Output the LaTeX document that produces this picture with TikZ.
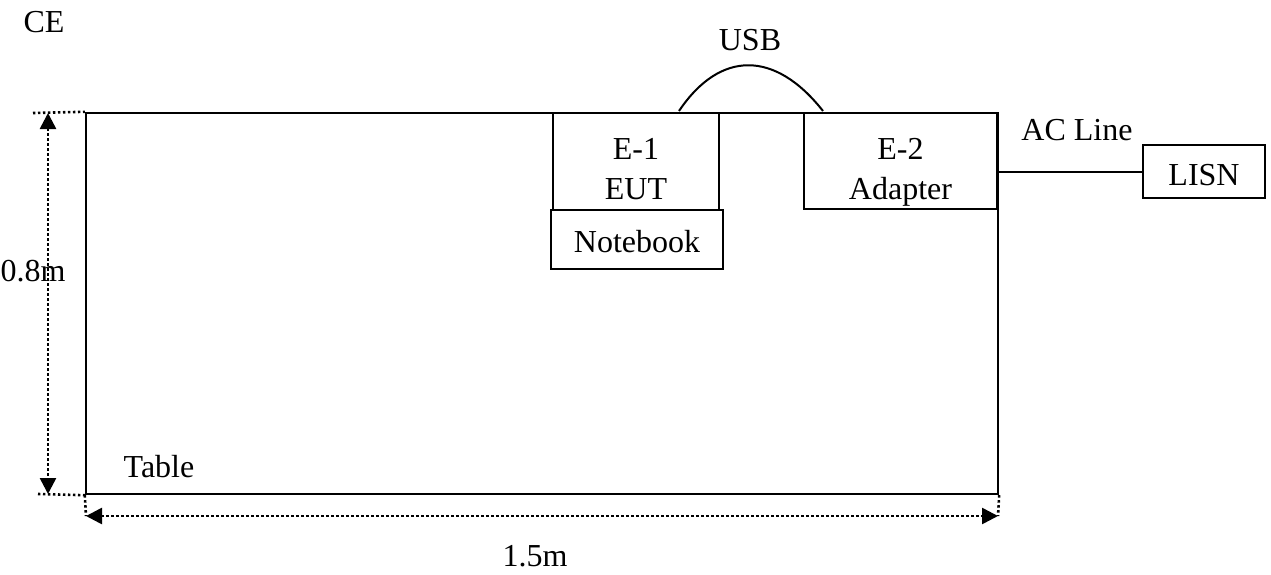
\documentclass[tikz,border=0pt]{standalone}
\usepackage{fontspec}
\setmainfont{Liberation Serif}
\usepackage{tikz}
\usetikzlibrary{arrows.meta}

\begin{document}
\begin{tikzpicture}[x=0.5pt,y=-0.5pt,font=\fontsize{16}{20}\selectfont,
	box/.style={draw,line width=1pt,inner sep=0pt},
	dim/.style={line width=1.3pt,dash pattern=on 1.2pt off 1.3pt},
	dimarrow/.style={dim,{Triangle[width=8pt,length=8pt]}-{Triangle[width=8pt,length=8pt]}}]
	\useasboundingbox (0,0) rectangle (1271,574);
	\node (table) at (542,303.5)[draw,line width=1.2pt,minimum width=456pt,minimum height=190.5pt]{};
	\node (ce) at (44,32)[anchor=base]{CE};
	\node (h) at (33,281)[anchor=base]{0.8m};
	\node (w) at (535,566)[anchor=base]{1.5m};
	\node (tab) at (159,477)[anchor=base]{Table};
	\node (usb) at (750,50)[anchor=base]{USB};
	\node (acl) at (1077,140)[anchor=base]{AC Line};
	\node (eut) at (636,161.5)[box,minimum width=83pt,minimum height=48.5pt]{};
	\node (nb) at (637,239.5)[box,minimum width=86pt,minimum height=29.5pt]{};
	\node (ada) at (900.5,161)[box,minimum width=96.5pt,minimum height=48pt]{};
	\node (lisn) at (1204,171.5)[box,minimum width=61pt,minimum height=26.5pt]{};
	\node (eutA) at (636,159)[anchor=base]{E-1};
	\node (eutB) at (636,199)[anchor=base]{EUT};
	\node (nbA) at (637,252)[anchor=base]{Notebook};
	\node (adaA) at (900.5,159)[anchor=base]{E-2};
	\node (adaB) at (900.5,199)[anchor=base]{Adapter};
	\node (lisnA) at (1204,185)[anchor=base]{LISN};
	\draw[line width=1pt] (table.east |- lisn) -- (lisn);
	\coordinate (usbA) at (679,111);
	\coordinate (usbB) at (823,111);
	\draw[line width=1pt] (usbA) .. controls (720,50) and (775,50) .. (usbB);
	\coordinate (t0) at (33,113);
	\coordinate (b0) at (38,494);
	\coordinate (vt) at (48,113);
	\coordinate (vb) at (48,494);
	\coordinate (bl) at (86,516);
	\coordinate (br) at (998,516);
	\draw[dim] (t0) -- (table.north west);
	\draw[dim] (b0) -- (table.south west);
	\draw[dimarrow] (vt) -- (vb);
	\draw[dim] (table.south west) -- (bl);
	\draw[dim] (table.south east) -- (br);
	\draw[dimarrow] (bl) -- (br);
\end{tikzpicture}
\end{document}
